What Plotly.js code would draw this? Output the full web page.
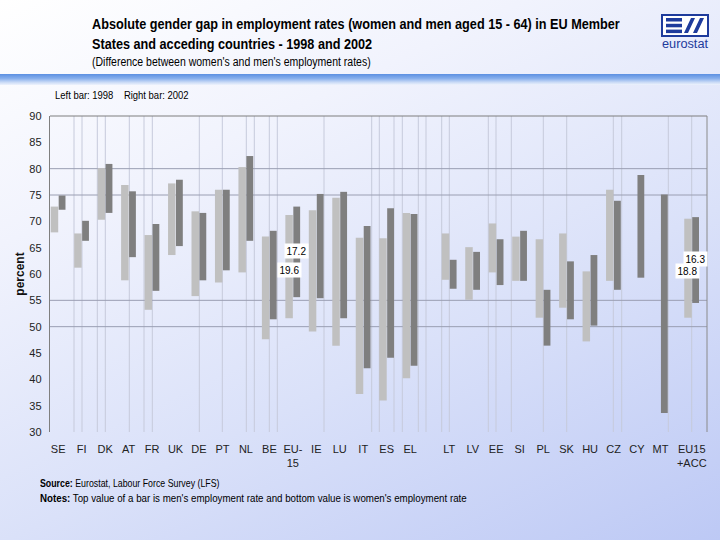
<!DOCTYPE html>
<html>
<head>
<meta charset="utf-8">
<script src="https://cdn.plot.ly/plotly-3.0.1.min.js"></script>
<style>
html,body{margin:0;padding:0;width:720px;height:540px;overflow:hidden;}
body{position:relative;background:linear-gradient(155deg,#ffffff 0%,#f1f3fd 28%,#dae1f9 62%,#bdc9f5 100%);
  font-family:"Liberation Sans",Arial,sans-serif;color:#000;}
#stripe{position:absolute;left:0;top:74px;width:720px;height:11px;background:linear-gradient(to bottom,#5c90e2 0%,#86aeec 40%,#c9daf6 75%,#eef3fd 100%);}
#chart{position:absolute;left:0;top:0;width:720px;height:540px;}
#logo{position:absolute;left:660px;top:14px;}
.t{position:absolute;white-space:pre;transform-origin:0 0;}
#title{left:92px;top:14px;font-size:15.5px;line-height:20px;font-weight:bold;transform:scaleX(0.817);}
#sub{left:92px;top:55px;font-size:12px;line-height:14px;transform:scaleX(0.875);}
#bars{left:55px;top:89px;font-size:11px;line-height:13px;transform:scaleX(0.86);}
#src{left:40px;top:477px;font-size:11px;line-height:13px;transform:scaleX(0.8);}
#notes{left:40px;top:492px;font-size:11px;line-height:13px;transform:scaleX(0.885);}
</style>
</head>
<body>
<div id="stripe"></div>
<svg id="logo" width="52" height="40" viewBox="0 0 52 40">
  <rect x="2" y="1" width="46" height="21" fill="#ffffff" stroke="#1e3b9c" stroke-width="2"/>
  <rect x="6" y="4" width="16" height="3.5" fill="#1e3b9c"/>
  <rect x="6" y="9.8" width="16" height="3.5" fill="#1e3b9c"/>
  <rect x="6" y="15.6" width="16" height="3.5" fill="#1e3b9c"/>
  <polygon points="24,19 28,19 35,4 31,4" fill="#1e3b9c"/>
  <polygon points="33,19 37,19 44,4 40,4" fill="#1e3b9c"/>
  <text x="2" y="34" font-family="Liberation Sans, Arial, sans-serif" font-size="12.5" fill="#1e3b9c" textLength="46" lengthAdjust="spacingAndGlyphs">eurostat</text>
</svg>
<div id="title" class="t">Absolute gender gap in employment rates (women and men aged 15 - 64) in EU Member
States and acceding countries - 1998 and 2002</div>
<div id="sub" class="t">(Difference between women's and men's employment rates)</div>
<div id="bars" class="t">Left bar: 1998    Right bar: 2002</div>
<div id="src" class="t"><b>Source:</b> Eurostat, Labour Force Survey (LFS)</div>
<div id="notes" class="t"><b>Notes:</b> Top value of a bar is men's employment rate and bottom value is women's employment rate</div>
<div id="chart"></div>
<script>
// ---- data ----
const countries = ['SE','FI','DK','AT','FR','UK','DE','PT','NL','BE','EU-15','IE','LU','IT','ES','EL',
                   'LT','LV','EE','SI','PL','SK','HU','CZ','CY','MT','EU15+ACC'];
const tickLabels = ['SE','FI','DK','AT','FR','UK','DE','PT','NL','BE','EU-<br>15','IE','LU','IT','ES','EL',
                   'LT','LV','EE','SI','PL','SK','HU','CZ','CY','MT','EU15<br>+ACC'];
// 1998 (left bar): top = men, bottom = women
const men1998   = [72.8,67.7,80.1,76.9,67.4,77.2,71.9,76.0,80.3,67.1,71.2,72.1,74.5,66.9,66.8,71.6,
                   67.7,65.1,69.6,67.1,66.6,67.7,60.5,76.0,null,null,70.5];
const women1998 = [67.9,61.2,70.3,58.8,53.2,63.6,55.8,58.4,60.3,47.6,51.6,49.1,46.4,37.2,36.0,40.2,
                   58.9,55.1,60.3,58.7,51.7,53.6,47.2,58.7,null,null,51.7];
// 2002 (right bar)
const men2002   = [74.9,70.1,80.9,75.7,69.5,77.9,71.6,76.0,82.4,68.2,72.8,75.2,75.6,69.1,72.5,71.4,
                   62.7,64.2,66.6,68.2,57.0,62.4,63.6,73.9,78.8,75.1,70.8];
const women2002 = [72.2,66.3,71.6,63.2,56.8,65.3,58.8,60.7,66.3,51.4,55.6,55.4,51.6,42.1,44.1,42.6,
                   57.2,57.0,57.9,58.7,46.4,51.4,50.2,57.0,59.3,33.6,54.5];
const labelled = ['EU-15','EU15+ACC'];

// ---- layout helpers ----
const FONT = '"Liberation Sans",Arial,sans-serif';
const L = 50, R = 707, T = 116, B = 432;          // plot box in px
const W = 720, H = 540;
const px = x => (x - L) / (R - L);                // px -> paper x
// category positions: extra spacing before acceding countries and before the total
const pos = countries.map((c, i) => i + (i >= 16 ? 2/3 : 0) + (i >= 26 ? 1/3 : 0));
const LW = 0.32, LO = -0.32;   // 1998 bar width / offset
const DW = 0.29, DO = 0.02;    // 2002 bar width / offset

const diff = (a, b) => a.map((v, i) => (v == null || b[i] == null) ? null : v - b[i]);

const traces = [
  {type:'bar', x:pos, y:diff(men1998, women1998), base:women1998, width:LW, offset:LO,
   marker:{color:'#c0c0c0', line:{width:0}}, name:'1998', hoverinfo:'skip'},
  {type:'bar', x:pos, y:diff(men2002, women2002), base:women2002, width:DW, offset:DO,
   marker:{color:'#7f7f7f', line:{width:0}}, name:'2002', hoverinfo:'skip'}
];

// faint vertical lines seen in the reference (px positions inside the plot)
const vLinesPx = [74,82,97.3,105.3,129.3,144,152.3,199.3,222.3,246.3,254.3,269.3,277.3,324,371.7,379.3,
                  394,402.3,418.3,426,441.7,449.3,488.3,496,511.3,543.3,566.7,613.3,621.7,668.3,691.7];
const gridValues = [50,55,75,80];

const shapes = [];
vLinesPx.forEach(x => shapes.push({type:'line', xref:'paper', yref:'paper', x0:px(x), x1:px(x), y0:0, y1:1,
  line:{color:'#c6cadb', width:1}, layer:'below'}));
gridValues.forEach(v => shapes.push({type:'line', xref:'paper', yref:'y', x0:0, x1:1, y0:v, y1:v,
  line:{color:'#9a9eb2', width:1}, layer:'below'}));
shapes.push({type:'line', xref:'paper', yref:'paper', x0:0, x1:1, y0:1, y1:1, line:{color:'#7f7f7f', width:1.2}});
shapes.push({type:'line', xref:'paper', yref:'paper', x0:1, x1:1, y0:0, y1:1, line:{color:'#8a8a8a', width:1}});

// gap labels (men - women) on the two aggregates; 1998 label sits a little lower
const annotations = [];
countries.forEach((c, i) => {
  if (!labelled.includes(c)) return;
  [[men1998, women1998, LO, LW, -3], [men2002, women2002, DO, DW, 1]].forEach(([m, w, o, wd, ys]) => {
    if (m[i] == null) return;
    annotations.push({xref:'x', yref:'y', x:pos[i] + o + wd/2, y:(m[i] + w[i]) / 2, yshift:ys,
      text:(m[i] - w[i]).toFixed(1), showarrow:false, bgcolor:'#ffffff', borderpad:1.5,
      font:{family:FONT, size:10, color:'#000'}});
  });
});

const layout = {
  width:W, height:H,
  margin:{l:L, r:W-R, t:T, b:H-B},
  paper_bgcolor:'rgba(0,0,0,0)', plot_bgcolor:'rgba(0,0,0,0)',
  showlegend:false, barmode:'overlay',
  font:{family:FONT, color:'#222'},
  xaxis:{type:'linear', range:[-0.35, 27.65], tickvals:pos, ticktext:tickLabels,
    showgrid:false, zeroline:false, showline:false, ticks:'', ticklabelstandoff:9,
    tickfont:{family:FONT, size:11, color:'#222'}},
  yaxis:{range:[30, 90], dtick:5, tick0:30, showgrid:false, zeroline:false,
    showline:true, linecolor:'#7f7f7f', linewidth:1.2, ticks:'', ticklabelstandoff:5,
    tickfont:{family:FONT, size:11, color:'#222'},
    title:{text:'<b>percent</b>', standoff:2, font:{family:FONT, size:12, color:'#111'}}},
  shapes, annotations
};

Plotly.newPlot('chart', traces, layout, {staticPlot:true, displayModeBar:false});
</script>
</body>
</html>
